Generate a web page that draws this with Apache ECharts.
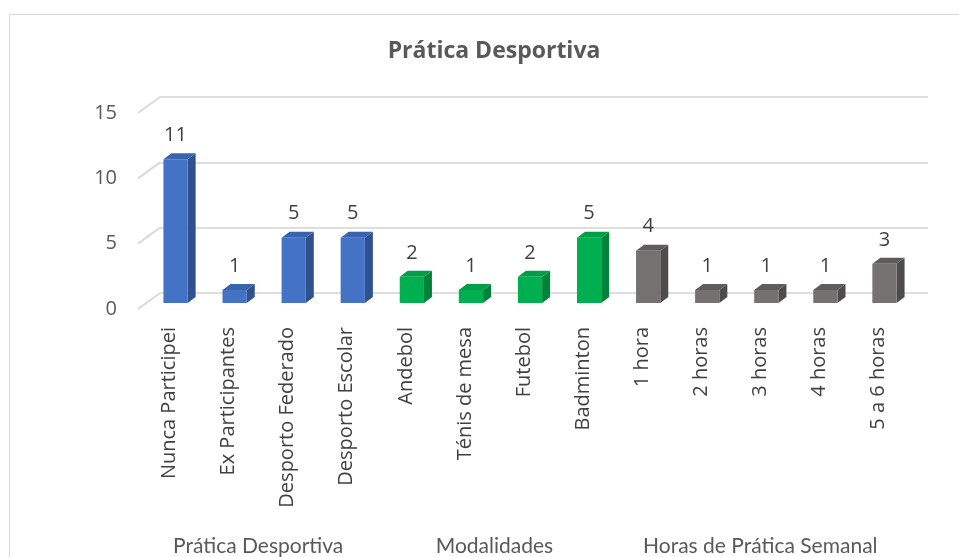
<!DOCTYPE html>
<html>
<head>
<meta charset="utf-8">
<title>Prática Desportiva</title>
<script src="https://cdn.jsdelivr.net/npm/echarts@6/dist/echarts.min.js"></script>
<style>
    html, body {
        margin: 0;
        padding: 0;
        background: #ffffff;
        overflow: hidden;
    }
    .frame {
        position: absolute;
        left: 9px;
        top: 14px;
        width: 2000px;
        height: 2000px;
        border: 1px solid #d9d9d9;
    }
    .chart {
        position: absolute;
        left: 0;
        top: 0;
        width: 959px;
        height: 557px;
    }
</style>
</head>
<body>
<div class="frame"></div>
<div class="chart" id="main"></div>
<script>
// dados do gráfico
const categories = ['Nunca Participei', 'Ex Participantes', 'Desporto Federado', 'Desporto Escolar',
    'Andebol', 'Ténis de mesa', 'Futebol', 'Badminton',
    '1 hora', '2 horas', '3 horas', '4 horas', '5 a 6 horas'];
const values = [11, 1, 5, 5, 2, 1, 2, 5, 4, 1, 1, 1, 3];
const groupOf = [0, 0, 0, 0, 1, 1, 1, 1, 2, 2, 2, 2, 2];
const groupNames = ['Prática Desportiva', 'Modalidades', 'Horas de Prática Semanal'];
const groupFirst = [0, 4, 8];
const groupLast = [3, 7, 12];
const yTicks = [0, 5, 10, 15];

// cores: frente, lado, topo
const palette = [
    ['#4472c4', '#2f528f', '#3a63ad'],
    ['#00b050', '#00823b', '#009e47'],
    ['#767171', '#4e4b4b', '#605c5c']
];

const FONT = '"Open Sans", "Noto Sans", sans-serif';
const DEPTH_X = 22, DEPTH_Y = 16;   // profundidade do chão
const BAR_DX = 8, BAR_DY = 6;       // profundidade das barras

let myChart = echarts.init(document.getElementById('main'));

function renderBar(params, api) {
    const i = api.value(0);
    const v = api.value(1);
    const g = api.value(2);
    const base = api.coord([i, 0]);
    const top = api.coord([i, v]);
    const w = api.size([1, 0])[0] * 0.41;
    const x0 = base[0] - w / 2;
    const x1 = base[0] + w / 2;
    const c = palette[g];
    return {
        type: 'group',
        children: [
            {
                type: 'polygon',
                shape: { points: [[x1, top[1]], [x1 + BAR_DX, top[1] - BAR_DY], [x1 + BAR_DX, base[1] - BAR_DY], [x1, base[1]]] },
                style: { fill: c[1] }
            },
            {
                type: 'polygon',
                shape: { points: [[x0, top[1]], [x0 + BAR_DX, top[1] - BAR_DY], [x1 + BAR_DX, top[1] - BAR_DY], [x1, top[1]]] },
                style: { fill: c[2] }
            },
            {
                type: 'rect',
                shape: { x: x0, y: top[1], width: w, height: base[1] - top[1] },
                style: { fill: c[0] }
            },
            {
                type: 'text',
                style: {
                    text: String(v),
                    x: base[0],
                    y: top[1] - 24,
                    align: 'center',
                    verticalAlign: 'middle',
                    fill: '#404040',
                    fontSize: 20,
                    fontFamily: FONT
                }
            }
        ]
    };
}

function renderDiagonal(params, api) {
    const p = api.coord([0, api.value(0)]);
    const half = api.size([1, 0])[0] / 2;
    const x = p[0] - half;
    return {
        type: 'line',
        shape: { x1: x - DEPTH_X, y1: p[1] + DEPTH_Y, x2: x, y2: p[1] },
        style: { stroke: '#d9d9d9', lineWidth: 2 }
    };
}

function renderGroup(params, api) {
    const a = api.coord([api.value(0), 0]);
    const b = api.coord([api.value(1), 0]);
    return {
        type: 'text',
        style: {
            text: groupNames[api.value(2)],
            x: (a[0] + b[0]) / 2,
            y: a[1] + 237,
            align: 'center',
            verticalAlign: 'middle',
            fill: '#595959',
            fontSize: 21,
            fontFamily: 'Lato, "Open Sans", sans-serif'
        }
    };
}

const hiddenX = {
    type: 'category',
    data: categories,
    axisLine: { show: false },
    axisTick: { show: false },
    axisLabel: { show: false }
};

myChart.setOption({
    animation: false,
    title: {
        text: 'Prática Desportiva',
        left: 489,
        top: 35,
        textAlign: 'center',
        textStyle: {
            color: '#595959',
            fontFamily: FONT,
            fontSize: 23,
            fontWeight: 'bold'
        }
    },
    grid: [
        { left: 160, top: 97, width: 768, height: 196 },   // parede do fundo
        { left: 146, top: 107, width: 768, height: 196 },  // barras
        { left: 140, top: 113, width: 768, height: 196 }   // frente / rótulos
    ],
    xAxis: [
        Object.assign({ gridIndex: 0 }, hiddenX),
        Object.assign({ gridIndex: 1 }, hiddenX),
        {
            gridIndex: 2,
            type: 'category',
            data: categories,
            axisLine: { show: false },
            axisTick: { show: false },
            axisLabel: {
                interval: 0,
                rotate: 90,
                margin: 18,
                color: '#404040',
                fontSize: 20,
                fontFamily: FONT
            }
        }
    ],
    yAxis: [
        {
            gridIndex: 0, type: 'value', min: 0, max: 15, interval: 5,
            axisLabel: { show: false },
            axisLine: { show: false },
            axisTick: { show: false },
            splitLine: { show: true, lineStyle: { color: '#dedede', width: 2 } }
        },
        {
            gridIndex: 1, type: 'value', min: 0, max: 15, interval: 5,
            axisLabel: { show: false },
            axisLine: { show: false },
            axisTick: { show: false },
            splitLine: { show: false }
        },
        {
            gridIndex: 2, type: 'value', min: 0, max: 15, interval: 5,
            axisLine: { show: false },
            axisTick: { show: false },
            splitLine: { show: false },
            axisLabel: {
                margin: 23,
                color: '#595959',
                fontSize: 20,
                fontFamily: FONT
            }
        }
    ],
    series: [
        {
            type: 'custom',
            xAxisIndex: 0,
            yAxisIndex: 0,
            renderItem: renderDiagonal,
            data: yTicks.map(t => [t]),
            silent: true
        },
        {
            type: 'custom',
            xAxisIndex: 1,
            yAxisIndex: 1,
            renderItem: renderBar,
            encode: { x: 0, y: 1 },
            data: values.map((v, i) => [i, v, groupOf[i]])
        },
        {
            type: 'custom',
            xAxisIndex: 2,
            yAxisIndex: 2,
            renderItem: renderGroup,
            data: groupNames.map((n, k) => [groupFirst[k], groupLast[k], k]),
            silent: true
        }
    ]
});

window.addEventListener('resize', () => {
    myChart.resize();
});
</script>
</body>
</html>
